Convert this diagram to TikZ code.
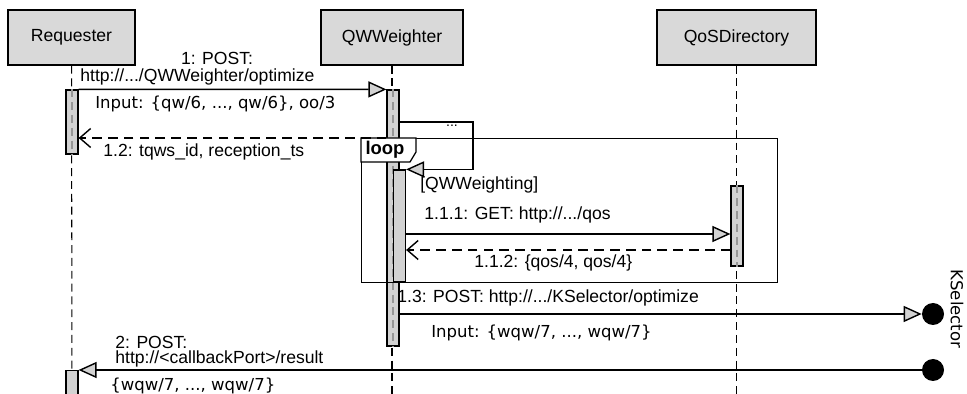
\documentclass[tikz,border=0pt]{standalone}
\usepackage{fontspec}
\setmainfont{Liberation Sans}
\newfontfamily\entradafont{DejaVu Sans}
\usetikzlibrary{arrows.meta, calc}
\definecolor{grisclaro}{RGB}{217,217,217}
\definecolor{grisbarra}{RGB}{210,210,210}
\definecolor{grisvida}{RGB}{150,150,150}

\begin{document}
\begin{tikzpicture}[
                x=0.02cm, y=-0.02cm,
                caja/.style={
                    rectangle,
                    draw,
                    fill=grisclaro,
                    line width=0.7pt,
                    minimum height=1.1cm,
                    font=\fontsize{10}{12}\selectfont
                },
                vida/.style={dash pattern=on 4.5pt off 2.8pt, line width=0.6pt},
                vidabarra/.style={vida, draw=grisvida},
                barra/.style={
                    rectangle,
                    draw,
                    fill=grisbarra,
                    line width=0.7pt,
                    minimum width=0.24cm,
                    inner sep=0pt
                },
                mensaje/.style={line width=0.8pt, -{Triangle[length=0.36cm, width=0.32cm, fill=grisbarra]}},
                respuesta/.style={line width=0.8pt, dash pattern=on 5.5pt off 3.5pt, -{Straight Barb[length=0.22cm, width=0.38cm]}},
                etiqueta/.style={font=\fontsize{10}{11}\selectfont, inner sep=0pt},
                entrada/.style={font=\entradafont\fontsize{9.4}{11}\selectfont, inner sep=0pt},
                fin/.style={circle, fill=black, minimum size=0.44cm, inner sep=0pt}
            ]
                \useasboundingbox (0,0) rectangle (967,394);
                \node[caja, minimum width=2.54cm] (req) at (71.5,37.5) {Requester};
                \node[caja, minimum width=2.84cm] (qww) at (392,37.5) {QWWeighter};
                \node[caja, minimum width=3.18cm] (qos) at (736.5,37.5) {QoSDirectory};
                \coordinate (finreq) at (72,400);
                \coordinate (finqww) at (392,400);
                \coordinate (finqos) at (736.5,400);
                \draw[vida] (req) -- (finreq);
                \draw[vida] (qww) -- (finqww);
                \draw[vida] (qos) -- (finqos);
                \node[fin] (fin1) at (933,314) {};
                \node[fin] (fin2) at (933,370) {};
                \node[entrada, rotate=-90] (ksel) at (957,309) {KSelector};
                % textos de los mensajes
                \node[etiqueta] (t1) at (217,58) {1: POST:};
                \node[etiqueta, anchor=west] (t1b) at (80,77) {http://.../QWWeighter/optimize};
                \node[entrada, anchor=west] (t1c) at (95,104) {Input: \{qw/6, ..., qw/6\}, oo/3};
                \node[etiqueta, anchor=west] (t12) at (103,152) {1.2: tqws\_id, reception\_ts};
                \node[etiqueta, anchor=west] (tqw) at (420,185) {[QWWeighting]};
                \node[etiqueta, anchor=west] (t111) at (424,215) {1.1.1: GET: http://.../qos};
                \node[etiqueta, anchor=west] (t112) at (474,263) {1.1.2: \{qos/4, qos/4\}};
                \node[etiqueta, anchor=west] (t13) at (397,298) {1.3: POST: http://.../KSelector/optimize};
                \node[entrada, anchor=west] (t13b) at (431,333) {Input: \{wqw/7, ..., wqw/7\}};
                \node[etiqueta, anchor=north west, align=left, font=\fontsize{10}{8.6}\selectfont] (t2) at (115,336) {2: POST:\\http://<callbackPort>/result};
                \node[entrada, anchor=west] (t2b) at (110,386) {\{wqw/7, ..., wqw/7\}};
                % barras de activacion
                \node[barra, minimum height=1.28cm] (breq) at (72,122) {};
                \node[barra, minimum height=5.12cm] (bqww) at (393,218) {};
                \draw[vidabarra] (bqww.north) -- (bqww.south);
                \node[barra, minimum height=2.24cm] (bqww2) at (399.5,226) {};
                \node[barra, minimum height=1.6cm] (bqos) at (737,226) {};
                \node[barra, minimum height=0.6cm, anchor=north] (breq2) at (72,370) {};
                \draw[vidabarra] (breq.north) -- (breq.south);
                \draw[vidabarra] (bqos.north) -- (bqos.south);
                % bucle
                \node[draw, line width=0.7pt, minimum width=8.32cm, minimum height=2.88cm, anchor=north west, inner sep=0pt] (bucle) at (361,138) {};
                \draw[line width=0.7pt, fill=white] (bucle.north west) -- ++(55,0) -- ++(0,14) -- ++(-6,10) -- ++(-49,0) -- cycle;
                \node[etiqueta, font=\fontsize{10.5}{11}\selectfont\bfseries] (tbucle) at (385,150) {loop};
                % mensajes
                \coordinate (y12) at (0,138);
                \coordinate (auto1) at (473,122);
                \coordinate (y111) at (0,234);
                \coordinate (y112) at (0,250);
                \draw[mensaje] (breq.north east) -- (bqww.north west);
                \draw[respuesta] (bqww.west |- y12) -- (breq.east |- y12);
                \draw[mensaje] (bqww.east |- auto1) -- (auto1) -- (auto1 |- bqww2.north) -- (bqww2.north east);
                \node[etiqueta, font=\fontsize{8}{9}\selectfont] (puntos) at (452,126) {...};
                \draw[mensaje] (bqww2.east |- y111) -- (bqos.west |- y111);
                \draw[respuesta] (bqos.west |- y112) -- (bqww2.east |- y112);
                \draw[mensaje] (bqww.east |- fin1) -- (fin1);
                \draw[mensaje] (fin2) -- (breq2.north east);
            \end{tikzpicture}
\end{document}
